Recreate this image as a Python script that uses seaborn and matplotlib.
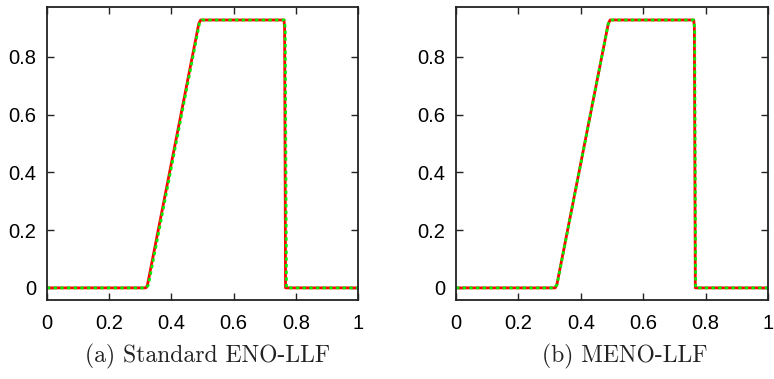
import numpy as np
import matplotlib
matplotlib.use("Agg")
import matplotlib.pyplot as plt
import seaborn as sns

# reference solution (red) and computed solution (green dotted)
x_ref = [0.0, 0.318, 0.323, 0.488, 0.494, 0.762, 0.764, 0.767, 1.0]
y_ref = [0.0, 0.0, 0.01, 0.915, 0.928, 0.928, 0.9, 0.0, 0.0]

x_eno = [0.0, 0.319, 0.326, 0.490, 0.498, 0.763, 0.766, 0.770, 1.0]
y_eno = [0.0, 0.0, 0.01, 0.915, 0.928, 0.928, 0.9, 0.0, 0.0]

x_meno = [0.0, 0.316, 0.324, 0.488, 0.495, 0.762, 0.765, 0.768, 1.0]
y_meno = [0.0, 0.0, 0.012, 0.915, 0.928, 0.928, 0.9, 0.0, 0.0]

captions = ["(a) Standard ENO-LLF", "(b) MENO-LLF"]
xticks = [0, 0.2, 0.4, 0.6, 0.8, 1]
yticks = [0, 0.2, 0.4, 0.6, 0.8]

sns.set_style("ticks")
plt.rcParams["font.family"] = ["Liberation Sans", "DejaVu Sans"]

fig = plt.figure(figsize=(7.74, 3.79), dpi=100)
W, H = 774, 379
boxes = [(47, 7, 311, 293), (456, 7, 312, 293)]
centers = [208, 625]

for i, (l, t, w, h) in enumerate(boxes):
    ax = fig.add_axes([l / W, 1 - (t + h) / H, w / W, h / H])
    sol_x, sol_y = (x_eno, y_eno) if i == 0 else (x_meno, y_meno)
    sns.lineplot(x=x_ref, y=y_ref, ax=ax, color="#ff0000", lw=2.0, sort=False)
    sns.lineplot(x=sol_x, y=sol_y, ax=ax, color="#00ee00", lw=2.0,
                 linestyle=(0, (1.2, 1.2)), sort=False)
    ax.set_xlim(0, 1)
    ax.set_ylim(-0.042, 0.973)
    ax.set_xticks(xticks)
    ax.set_xticklabels(["0", "0.2", "0.4", "0.6", "0.8", "1"])
    ax.set_yticks(yticks)
    ax.set_yticklabels(["0", "0.2", "0.4", "0.6", "0.8"])
    ax.tick_params(direction="in", length=5, width=1, top=True, right=True,
                   labelsize=14.5, colors="#222222", labelcolor="black")
    ax.tick_params(axis="x", pad=10)
    ax.tick_params(axis="y", pad=8)
    for s in ax.spines.values():
        s.set_linewidth(1.3)
        s.set_color("#222222")
    fig.text(centers[i] / W, 1 - 356 / H, captions[i], ha="center", va="center",
             fontsize=17, family=["cmr10", "DejaVu Serif"], color="#222222")

fig.savefig("out.png", dpi=100)
